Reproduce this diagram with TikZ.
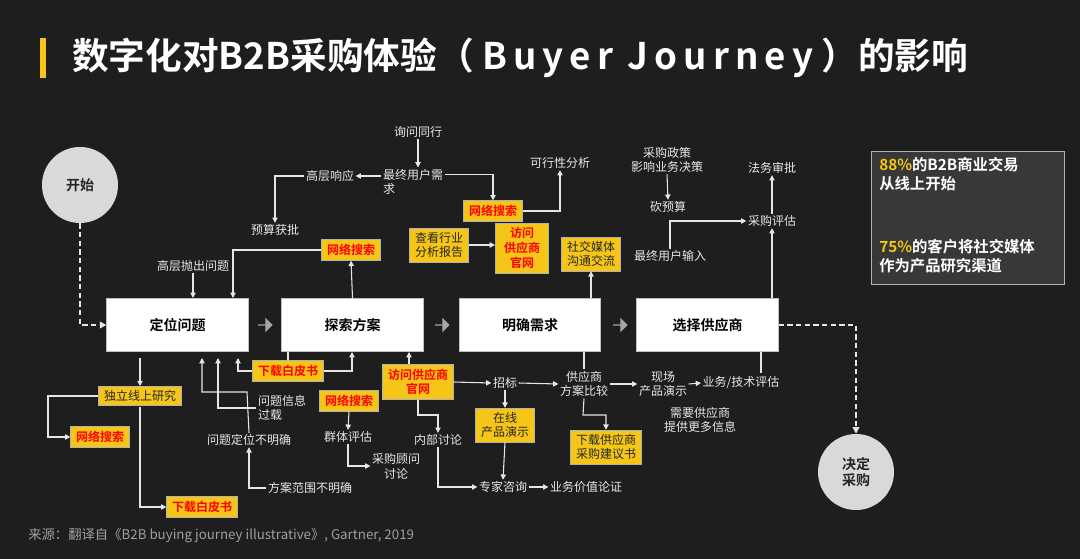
\documentclass[tikz,border=0pt]{standalone}
\usepackage{fontspec}
\setmainfont{Noto Sans CJK SC}
\newfontfamily\cjkb{Noto Sans CJK SC Bold}
\usetikzlibrary{arrows.meta,shapes.arrows}
\definecolor{bg}{HTML}{1E1E1E}
\definecolor{yel}{HTML}{F5C518}
\definecolor{ln}{HTML}{E6E6E6}
\definecolor{txt}{HTML}{E8E8E8}
\tikzset{
  lbl/.style={text=txt,font=\fontsize{9}{11}\selectfont,inner sep=1pt,align=center},
  ybox/.style={fill=yel,draw=gray!60,line width=0.4pt,text=red,font=\fontsize{9}{11}\selectfont\cjkb,inner xsep=4pt,inner ysep=3.5pt,align=center},
  yboxk/.style={fill=yel,draw=gray!60,line width=0.4pt,text=black!85,font=\fontsize{9}{11}\selectfont,inner xsep=4pt,inner ysep=3pt,align=center},
  mainbox/.style={fill=white,draw=gray!50,line width=0.6pt,minimum width=106pt,minimum height=40pt,font=\fontsize{10.5}{12}\selectfont\cjkb,text=black},
  circ/.style={circle,fill=black!15,minimum size=57pt,font=\fontsize{10.5}{12}\selectfont\cjkb,text=black!85,align=center,inner sep=0pt},
  arr/.style={draw=ln,line width=0.8pt,-{Triangle[length=4pt,width=4pt]}},
  ln/.style={draw=ln,line width=0.8pt},
  dsh/.style={draw=ln,line width=1.6pt,dash pattern=on 4pt off 2.5pt},
  blk/.style={single arrow,fill=black!35,minimum height=11pt,minimum width=11pt,single arrow head extend=2pt,inner sep=0pt}
}
\begin{document}
\begin{tikzpicture}[x=0.75pt,y=-0.75pt]
\fill[bg] (0,0) rectangle (1080,559);
\useasboundingbox (0,0) rectangle (1080,559);
% title
\fill[yel] (40,38) rectangle (46,78);
\node[anchor=west,text=white,font=\fontsize{27.5}{30}\selectfont\cjkb,inner sep=0pt] (title) at (72,58) {数字化对B2B采购体验（ B\,u\,y\,e\,r\, J\,o\,u\,r\,n\,e\,y ）的影响};
% circles
\node[circ] (start) at (80,185) {开始};
\node[circ] (end) at (856,472) {决定\\采购};
% main boxes
\node[mainbox] (b1) at (177.5,325) {定位问题};
\node[mainbox] (b2) at (352.5,325) {探索方案};
\node[mainbox] (b3) at (530,325) {明确需求};
\node[mainbox] (b4) at (707.5,325) {选择供应商};
\node[blk] (g1) at (265,325) {};
\node[blk] (g2) at (442,325) {};
\node[blk] (g3) at (620,325) {};
\draw[dsh,-{Triangle[length=5pt,width=5pt]}] (start.south) |- (b1.west);
\draw[dsh,-{Triangle[length=5pt,width=5pt]}] (b4.east) -| (end.north);
% top left
\node[lbl] (xw) at (418,132) {询问同行};
\node[lbl,align=left] (zz) at (413,182) {最终用户需\\求};
\node[lbl] (gx) at (330,176) {高层响应};
\node[lbl] (ys) at (275,230) {预算获批};
\node[lbl] (gp) at (193,266) {高层抛出问题};
\node[ybox] (ws1) at (351,250) {网络搜索};
\node[ybox] (ws2) at (493,211) {网络搜索};
\node[lbl] (kx) at (560,163) {可行性分析};
\node[yboxk] (ck) at (439,245) {查看行业\\分析报告};
\node[ybox,minimum width=40pt,minimum height=37pt] (fw1) at (522,248) {访问\\供应商\\官网};
\node[yboxk] (sj) at (591,254) {社交媒体\\沟通交流};
\node[lbl] (cg) at (667,160) {采购政策\\影响业务决策};
\node[lbl] (kys) at (668,207) {砍预算};
\node[lbl] (zsr) at (670,256) {最终用户输入};
\node[lbl] (cgpg) at (772,221) {采购评估};
\node[lbl] (fw) at (772,168) {法务审批};
\draw[arr] (xw.south) -- (xw.south |- zz.north);
\draw[arr] (zz.west |- gx.east) -- (gx.east);
\draw[arr] (gx.west) -| (ys.north);
\draw[arr] (gp.south) -- (gp.south |- b1.north);
\draw[arr] (ws1.west) -| (233,298);
\draw[arr] (b2.north) -- (ws1.south);
\draw[arr] ([yshift=-5pt]zz.north east) -| (ws2.north);
\draw[arr] (ws2.east) -| (kx.south);
\draw[arr] (ck.east) -- (ck.east -| fw1.west);
\draw[arr] (sj.south |- b3.north) -- (sj.south);
\draw[arr] (cg.south) -- (kys.north);
\draw[arr] (zsr.north) |- (cgpg.west);
\draw[arr] (cgpg.south |- b4.north) -- (cgpg.south);
\draw[arr] (cgpg.north) -- ++(0,-14) -| (fw.south);
% bottom left
\node[yboxk] (dl) at (140,396) {独立线上研究};
\node[ybox] (ws3) at (100,437) {网络搜索};
\node[ybox] (bp1) at (202,507) {下载白皮书};
\node[ybox] (bp2) at (288,371) {下载白皮书};
\node[lbl,align=left] (xx) at (282,408) {问题信息\\过载};
\node[lbl] (bmq) at (249,440) {问题定位不明确};
\node[lbl] (fa) at (310,488) {方案范围不明确};
\node[ybox] (ws4) at (349,401) {网络搜索};
\node[lbl] (qt) at (348,437) {群体评估};
\node[lbl] (gw) at (396,466) {采购顾问\\讨论};
\node[ybox] (fw2) at (418,382) {访问供应商\\官网};
\node[lbl] (nb) at (438,440) {内部讨论};
\draw[arr] (dl.north |- b1.south) ++(0,6) -- (dl.north);
\draw[arr] (dl.west) -- (48,396) |- (ws3.west);
\draw[arr] ([yshift=-1pt]dl.south) |- (bp1.west);
\draw[ln] (bp2.north) -- (bp2.north |- b2.south);
\draw[arr] (bp2.east) -| (352,352);
\draw[arr] (bp2.west) -| (238,358);
\draw[arr] (xx.west) -| (218,358);
\draw[arr] (bmq.north) -- (247,392) -| (202,358);
\draw[arr] (fa.west) -| (bmq.south);
\draw[arr] (ws4.south) -- (qt.north);
\draw[arr] (qt.south) |- (gw.west);
\draw[arr] (409,364) -- (409,352);
\draw[arr] (fw2.south) -- (418,415) -| (nb.north);
% bottom right
\node[lbl] (zb) at (505,383) {招标};
\node[lbl] (gb) at (584,384) {供应商\\方案比较};
\node[lbl] (xc) at (663,384) {现场\\产品演示};
\node[lbl] (yw) at (741,383) {业务/技术评估};
\node[lbl] (xy) at (700,420) {需要供应商\\提供更多信息};
\node[yboxk] (zx) at (505,425) {在线\\产品演示};
\node[yboxk] (xz) at (606,447) {下载供应商\\采购建议书};
\node[lbl] (zj) at (503,487) {专家咨询};
\node[lbl] (yz) at (586,487) {业务价值论证};
\draw[arr] (fw2.east) -- (zb.west);
\draw[arr] (zb.east) -- (gb.west);
\draw[ln] (gb.north |- b3.south) -- (gb.north);
\draw[arr] (gb.east) -- (xc.west);
\draw[arr] (xc.east) -- (yw.west);
\draw[ln] (761,352) -- (761,373);
\draw[arr] (gb.south) -- (583,415) -| (xz.north);
\draw[arr] (zb.south) -- (zx.north);
\draw[arr] (zx.south) -- (zj.north);
\draw[arr] (nb.south) |- (zj.west);
\draw[arr] (zj.east) -- (yz.west);
% right panel
\node[draw=gray!60,fill=black!78,minimum width=145pt,minimum height=100pt,anchor=north west,inner sep=0pt] (panel) at (871,151) {};
\node[anchor=north west,text=white,font=\fontsize{11.5}{14.5}\selectfont\cjkb,align=left,inner sep=0pt] (p1) at (879,157) {\textcolor{yel}{88\%}的B2B商业交易\\从线上开始};
\node[anchor=north west,text=white,font=\fontsize{11.5}{14.5}\selectfont\cjkb,align=left,inner sep=0pt] (p2) at (879,239) {\textcolor{yel}{75\%}的客户将社交媒体\\作为产品研究渠道};
% source
\node[anchor=west,text=gray!75,font=\fontsize{10}{11}\selectfont\itshape,inner sep=0pt] (src) at (28,536) {来源：翻译自《B2B buying journey illustrative》, Gartner, 2019};
\end{tikzpicture}
\end{document}
